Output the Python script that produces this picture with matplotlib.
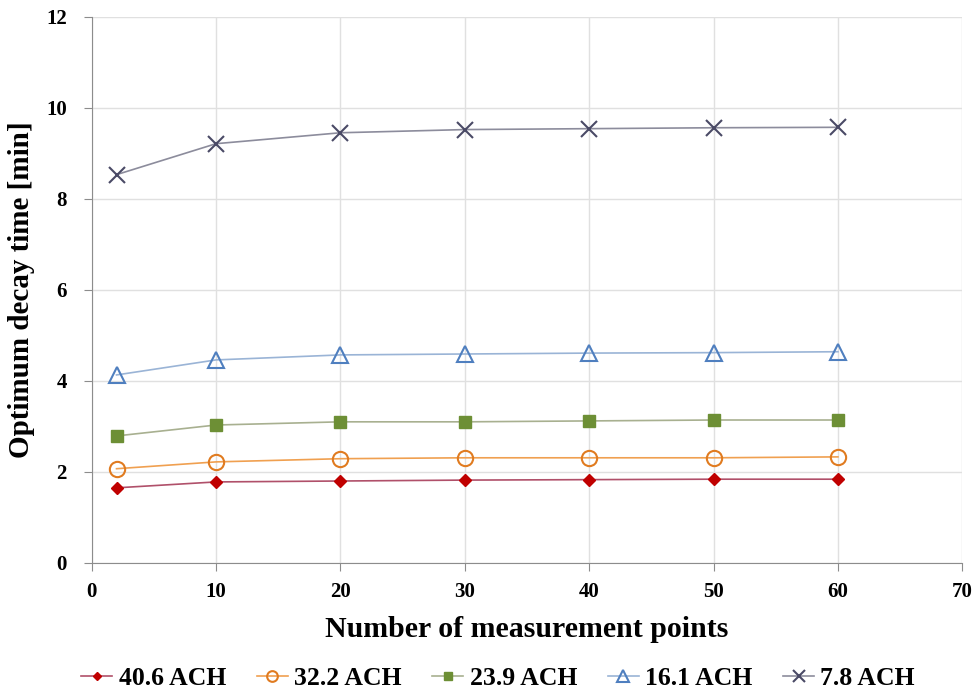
import matplotlib
matplotlib.use('Agg')
import matplotlib.pyplot as plt

# measurement point counts
points = [2, 10, 20, 30, 40, 50, 60]

# optimum decay time [min] per air change rate
ach_40_6 = [1.65, 1.78, 1.80, 1.82, 1.83, 1.84, 1.84]
ach_32_2 = [2.07, 2.22, 2.29, 2.31, 2.31, 2.31, 2.33]
ach_23_9 = [2.79, 3.03, 3.10, 3.10, 3.12, 3.14, 3.14]
ach_16_1 = [4.13, 4.46, 4.57, 4.59, 4.61, 4.62, 4.64]
ach_7_8 = [8.53, 9.21, 9.45, 9.52, 9.54, 9.56, 9.57]

labels = ['40.6 ACH', '32.2 ACH', '23.9 ACH', '16.1 ACH', '7.8 ACH']

plt.rcParams['font.family'] = ['Liberation Serif', 'DejaVu Serif']
plt.rcParams['font.weight'] = 'bold'

fig = plt.figure(figsize=(9.75, 6.95), dpi=100)
ax = fig.add_axes([0.094, 0.19, 0.893, 0.786])

ax.plot(points, ach_40_6, '-', color='#b0506a', lw=1.2, marker='D', ms=6,
        mfc='#c00000', mec='#c00000', label=labels[0])
ax.plot(points, ach_32_2, '-', color='#f0a050', lw=1.2, marker='o', ms=11,
        mfc='none', mec='#e07b20', mew=1.5, label=labels[1])
ax.plot(points, ach_23_9, '-', color='#a8b090', lw=1.2, marker='s', ms=8,
        mfc='#6d8f35', mec='#6d8f35', label=labels[2])
ax.plot(points, ach_16_1, '-', color='#9ab4d6', lw=1.2, marker='^', ms=12,
        mfc='none', mec='#4f7fbf', mew=1.5, label=labels[3])
ax.plot(points, ach_7_8, '-', color='#8c8c9c', lw=1.2, marker='x', ms=12,
        mec='#4a4a66', mew=1.5, label=labels[4])

ax.set_xlim(0, 70)
ax.set_ylim(0, 12)
ax.set_xticks(range(0, 71, 10))
ax.set_yticks(range(0, 13, 2))
ax.grid(True, color='#e0e0e0', lw=1)
ax.set_axisbelow(True)
for s in ['top', 'right']:
    ax.spines[s].set_visible(False)
for s in ['left', 'bottom']:
    ax.spines[s].set_color('#8c8c8c')
ax.tick_params(colors='#8c8c8c', labelcolor='black', labelsize=15, length=6)
ax.tick_params(axis='x', pad=8)
ax.tick_params(axis='y', pad=12)
for t in ax.get_xticklabels() + ax.get_yticklabels():
    t.set_fontweight('bold')

ax.set_xlabel('Number of measurement points', fontsize=21.5, fontweight='bold', labelpad=10)
ax.set_ylabel('Optimum decay time [min]', fontsize=21, fontweight='bold', labelpad=8)

fig.legend(loc='center', bbox_to_anchor=(0.511, 0.024), ncol=5, frameon=False,
           prop={'size': 18.5, 'weight': 'bold'}, handlelength=1.2, handletextpad=0.25,
           columnspacing=1.2, markerscale=0.7)

fig.savefig('out.png', dpi=100)
